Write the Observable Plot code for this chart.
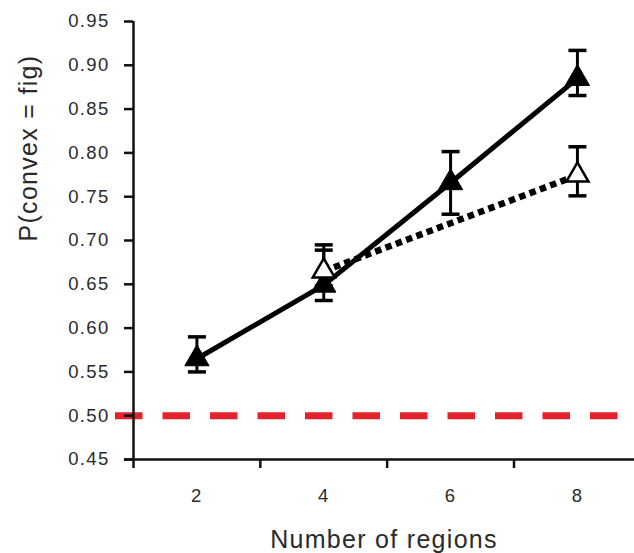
<!DOCTYPE html>
<html><head><meta charset="utf-8">
<script src="https://cdn.jsdelivr.net/npm/d3@7"></script>
<script src="https://cdn.jsdelivr.net/npm/@observablehq/plot@0.6"></script>
<style>body{margin:0;background:#fff}</style>
</head><body><div id="chart"></div>
<script>
// ---- data ----
const regions = [2, 4, 6, 8];
const solidMean = [0.565, 0.649, 0.766, 0.885];
const solidLo = [0.550, 0.6315, 0.730, 0.8655];
const solidHi = [0.590, 0.689, 0.8015, 0.917];
const openRegions = [4, 8];
const openMean = [0.665, 0.7745];
const openLo = [0.648, 0.751];
const openHi = [0.695, 0.807];
const chance = [0.5];
const yTicks = [0.45, 0.50, 0.55, 0.60, 0.65, 0.70, 0.75, 0.80, 0.85, 0.90, 0.95];
const xTickMarks = [1, 3, 5, 7];
const xTickLabels = [2, 4, 6, 8];
const xDomain = [1, 8.9];
const yDomain = [0.45, 0.95];
const xTitle = "Number of regions";
const yTitle = "P(convex = fig)";

// ---- tables ----
const solid = regions.map((x, i) => ({x, y: solidMean[i], lo: solidLo[i], hi: solidHi[i]}));
const open = openRegions.map((x, i) => ({x, y: openMean[i], lo: openLo[i], hi: openHi[i]}));
const all = [...solid, ...open];
const caps = all.flatMap(d => [{x: d.x, y: d.lo}, {x: d.x, y: d.hi}]);

const capSymbol = {
  draw(context, size) {
    const w = Math.sqrt(size / Math.PI);
    context.moveTo(-w, 0);
    context.lineTo(w, 0);
  }
};

const chart = Plot.plot({
  width: 634,
  height: 553,
  marginLeft: 133,
  marginRight: 0,
  marginTop: 21,
  marginBottom: 94,
  style: {fontFamily: "'Liberation Sans', Arial, sans-serif", color: "#111", background: "#fff", letterSpacing: "1.3px"},
  x: {domain: xDomain, axis: null},
  y: {domain: yDomain, axis: null},
  marks: [
    // chance line
    Plot.ruleY(chance, {stroke: "#e2232b", strokeWidth: 7, strokeDasharray: "27.5,20", insetLeft: -18, insetRight: 16}),
    // axes
    Plot.axisY({ticks: yTicks, tickSize: 9, tickPadding: 15, tickFormat: d3.format(".2f"), fontSize: 18.5, fill: "#2a2a2a", strokeWidth: 2.5, label: null}),
    Plot.axisX({ticks: xTickMarks, tickSize: 9, tickFormat: () => "", strokeWidth: 2.5, label: null}),
    Plot.axisX({ticks: xTickLabels, tickSize: 0, tickPadding: 29, fontSize: 18.5, fill: "#2a2a2a", label: null}),
    Plot.ruleX([xDomain[0]], {y1: yDomain[0], y2: yDomain[1], strokeWidth: 2.5}),
    Plot.ruleY([yDomain[0]], {strokeWidth: 2.5, insetLeft: -9}),
    // lines
    Plot.line(solid, {x: "x", y: "y", stroke: "#000", strokeWidth: 5}),
    Plot.line(open, {x: "x", y: "y", stroke: "#000", strokeWidth: 6.5, strokeDasharray: "6.5,4.5", strokeLinecap: "butt"}),
    // error bars
    Plot.ruleX(all, {x: "x", y1: "lo", y2: "hi", stroke: "#000", strokeWidth: 3}),
    Plot.dot(caps, {x: "x", y: "y", symbol: capSymbol, r: 9, stroke: "#000", fill: "none", strokeWidth: 3.5}),
    // points
    Plot.dot(solid, {x: "x", y: "y", symbol: "triangle", r: 9, fill: "#000", stroke: "#000", strokeWidth: 1}),
    Plot.dot(open, {x: "x", y: "y", symbol: "triangle", r: 8.2, fill: "#fff", stroke: "#000", strokeWidth: 2.5}),
    // titles
    Plot.text([xTitle], {text: d => d, frameAnchor: "bottom", dy: 80, fontSize: 25, fill: "#2a2a2a", lineAnchor: "middle"}),
    Plot.text([yTitle], {text: d => d, frameAnchor: "left", dx: -105, dy: 1, rotate: -90, fontSize: 25, fill: "#2a2a2a", lineAnchor: "middle"})
  ]
});
document.getElementById("chart").appendChild(chart);
</script>
</body></html>
